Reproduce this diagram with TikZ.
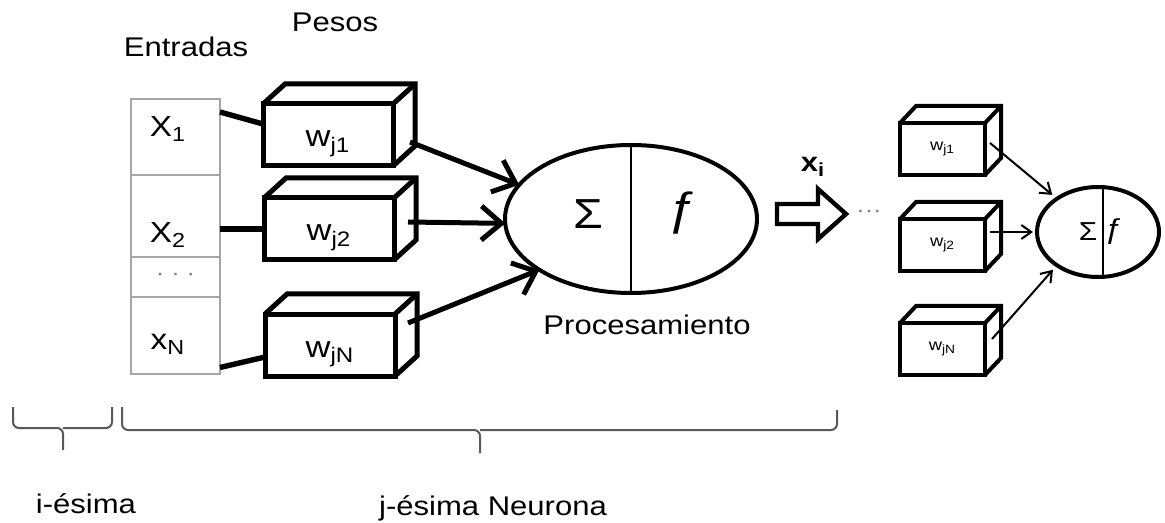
\documentclass[tikz,border=0pt]{standalone}
\usepackage{fontspec}
\setmainfont{Liberation Sans}[FakeStretch=1.15]
\usetikzlibrary{shapes.geometric,arrows.meta,positioning,calc}

\begin{document}
\begin{tikzpicture}[
    x=0.5pt, y=-0.5pt,
    >={Straight Barb[length=10pt,width=17pt]},
    title/.style={font=\fontsize{13.5}{16}\selectfont, anchor=base, inner sep=0pt},
    cell/.style={rectangle, draw=gray!70, line width=0.7pt, minimum width=44.5pt,
                 inner sep=0pt, outer sep=0pt},
    inlbl/.style={font=\fontsize{14.5}{16}\selectfont, anchor=base, inner sep=0pt},
    wbox/.style={rectangle, draw, line width=2.5pt, minimum width=65pt, minimum height=31pt,
                 inner sep=0pt, outer sep=0pt, font=\fontsize{15}{17}\selectfont,
                 text height=12pt, text depth=0pt},
    sbox/.style={rectangle, draw, line width=2pt, minimum width=42.5pt, minimum height=26pt,
                 inner sep=0pt, outer sep=0pt, font=\fontsize{8}{9}\selectfont},
    neuron/.style={ellipse, draw, line width=2pt, inner sep=0pt, outer sep=0pt},
    wire/.style={line width=2.7pt},
    arr/.style={->, line width=2.5pt},
    sarr/.style={-{Straight Barb[length=5pt,width=7pt]}, line width=1pt},
    brace/.style={draw=black!65, line width=1pt, rounded corners=3pt}
  ]
    \useasboundingbox (0,0) rectangle (1165,523);

    %--- Inputs ---
    \node[title] (entr) at (186,57) {Entradas};
    \node[title] (pesos) at (335,32) {Pesos};

    \node[cell, minimum height=38pt]   (in1)   at (175.5,137)   {};
    \node[cell, minimum height=41pt]   (in2)   at (175.5,216)   {};
    \node[cell, minimum height=20pt]   (indots) at (175.5,277)  {};
    \node[cell, minimum height=38.5pt] (inN)   at (175.5,335.5) {};

    \node[inlbl] (x1) at (168,137) {X\textsubscript{1}};
    \node[inlbl] (x2) at (168,243) {X\textsubscript{2}};
    \node[text=gray, font=\fontsize{11}{12}\selectfont] (xd) at (indots.center) {· · ·};
    \node[inlbl] (xN) at (168,350) {x\textsubscript{N}};

    %--- Weights ---
    \node[wbox] (w1) at (328,135) {w\textsubscript{j1}};
    \node[wbox] (w2) at (329,229) {w\textsubscript{j2}};
    \node[wbox] (wN) at (330,345) {w\textsubscript{jN}};

    \foreach \b in {w1,w2,wN}{
      \draw[line width=2.5pt] (\b.north west) -- ++(22,-20) -- ++(130,0) -- ++(0,62) -- (\b.south east);
      \draw[line width=2.5pt] (\b.north east) -- ++(22,-20);
    }

    \draw[wire] ($(in1.east)+(0,-25)$) -- ($(w1.west)+(0,-11)$);
    \draw[wire] (in2.east |- w2.west) -- (w2.west);
    \draw[wire] ($(inN.east)+(0,32)$) -- ($(wN.west)+(0,12)$);

    %--- Processing ---
    \node[neuron, minimum width=126pt, minimum height=74pt] (proc) at (631,219) {};
    \draw[line width=0.75pt] (proc.north) -- (proc.south);
    \node[font=\fontsize{21}{24}\selectfont] (sum) at (588,214) {Σ};
    \node[font=\fontsize{23}{26}\selectfont] (fun) at (683,213) {ƒ};
    \node[title] (proclbl) at (647,335) {Procesamiento};

    \draw[arr] ($(w1.east)+(17,7)$) -- (proc.163);
    \draw[arr] ($(w2.east)+(14,-7)$) -- (proc.182);
    \draw[arr] ($(wN.east)+(13,-22)$) -- (proc.209);

    %--- Output ---
    \draw[line width=2.2pt] (777,204) -- (818,204) -- (818,189) -- (846,214)
                            -- (818,239) -- (818,224) -- (777,224) -- cycle;
    \node[font=\fontsize{13.5}{16}\selectfont\bfseries, anchor=base] (xi) at (813,172) {x\textsubscript{i}};
    \node[text=gray, font=\fontsize{11}{12}\selectfont] (more) at (869,214) {···};

    %--- Next neuron ---
    \node[sbox] (s1) at (942.5,149) {w\textsubscript{j1}};
    \node[sbox] (s2) at (942.5,245) {w\textsubscript{j2}};
    \node[sbox] (s3) at (942.5,349) {w\textsubscript{jN}};

    \foreach \b in {s1,s2,s3}{
      \draw[line width=2pt] (\b.north west) -- ++(16,-17) -- ++(85,0) -- ++(0,52) -- (\b.south east);
      \draw[line width=2pt] (\b.north east) -- ++(16,-17);
    }

    \node[neuron, minimum width=61pt, minimum height=45pt] (sproc) at (1098,232) {};
    \draw[line width=0.75pt] ($(sproc.north)+(5,0)$) -- ($(sproc.south)+(5,0)$);
    \node[font=\fontsize{13}{15}\selectfont] (ssum) at (1088,232) {Σ};
    \node[font=\fontsize{14}{16}\selectfont] (sfun) at (1114,232) {ƒ};

    \draw[sarr, shorten >=3pt] ($(s1.east)+(5,-6)$) -- (sproc.141);
    \draw[sarr, shorten >=2pt] ($(s2.east)+(5,-13)$) -- (sproc.west);
    \draw[sarr, shorten >=3pt] ($(s3.east)+(7,-10)$) -- (sproc.219);

    %--- Braces ---
    \draw[brace] (13,407) |- (63,428) -- (63,450);
    \draw[brace] (112,407) |- (63,428);
    \draw[brace] (122,407) |- (480,430) -- (480,453);
    \draw[brace] (837,410) |- (480,430);

    \node[title] (ilbl) at (86,513) {i-ésima};
    \node[title] (jlbl) at (493,515) {j-ésima Neurona};
  \end{tikzpicture}
\end{document}
